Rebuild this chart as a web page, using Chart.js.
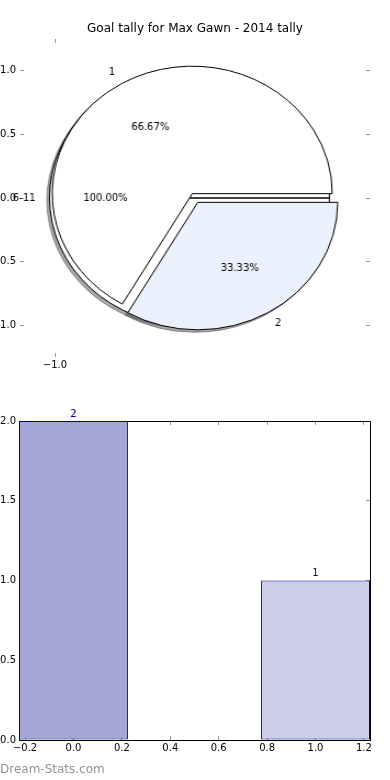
<!DOCTYPE html>
<html>
<head>
<meta charset="utf-8">
<script src="https://cdn.jsdelivr.net/npm/chart.js@4.4.0/dist/chart.umd.min.js"></script>
<style>
  html, body { margin: 0; padding: 0; background: #fff; width: 390px; height: 780px; overflow: hidden; }
  #wrap { position: relative; width: 390px; height: 780px; }
  canvas { position: absolute; }
  #axes { left: 0; top: 0; }
  #pieBack, #pieFront { left: 17px; top: 50px; transform: scaleX(1.098); }
  #bar { left: 0; top: 395px; }
  #mark { position: absolute; left: 0; top: 762px; font: 12px 'DejaVu Sans'; color: #939393; }
</style>
</head>
<body>
<div id="wrap">
  <canvas id="axes" width="390" height="390"></canvas>
  <canvas id="pieBack" width="356" height="296"></canvas>
  <canvas id="pieFront" width="356" height="296"></canvas>
  <canvas id="bar" width="390" height="370"></canvas>
  <div id="mark">Dream-Stats.com</div>
</div>
<script>
// data
const chartTitle = 'Goal tally for Max Gawn - 2014 tally';
const pieLabels = ['1', '2'];
const pieValues = [2, 1];
const backLabels = ['6-11'];
const backValues = [1];
const pieYTicks = [-1.0, -0.5, 0.0, 0.5, 1.0];
const pieXTicks = [-1.0];
const barX = [0, 1];
const barValues = [2, 1];
const barYTicks = [0, 0.5, 1.0, 1.5, 2.0];
const barXTicks = [-0.2, 0, 0.2, 0.4, 0.6, 0.8, 1.0, 1.2];

Chart.defaults.font.family = "'DejaVu Sans'";
Chart.defaults.font.size = 10;
Chart.defaults.color = '#000';

const SX = 1.098;     // pie axes are wider than tall
const EXPLODE = 5;
const fmt = v => Number(v).toFixed(1).replace('-', '\u2212');

const tickGrid = { display: true, drawOnChartArea: false, drawTicks: true, tickLength: -4, color: '#999' };
const setTicks = list => scale => { scale.ticks = list.map(v => ({ value: v })); };

// axes behind the pie
new Chart(document.getElementById('axes'), {
    type: 'scatter',
    data: { datasets: [] },
    options: {
        responsive: false,
        animation: false,
        events: [],
        plugins: {
            legend: { display: false },
            tooltip: { enabled: false },
            title: { display: true, text: chartTitle, color: '#000', font: { size: 12, weight: 'normal' }, padding: { top: 22, bottom: 0 } }
        },
        scales: {
            x: { type: 'linear', position: 'bottom', min: -1.25, max: 1.25, border: { display: false }, grid: tickGrid,
                 ticks: { padding: 6, maxRotation: 0, callback: fmt }, afterBuildTicks: setTicks(pieXTicks), afterFit: s => { s.height = 33; } },
            x2: { type: 'linear', position: 'top', min: -1.25, max: 1.25, border: { display: false }, grid: tickGrid,
                  ticks: { display: false }, afterBuildTicks: setTicks(pieXTicks), afterFit: s => { s.height = 2.6; } },
            y: { type: 'linear', position: 'left', min: -1.25, max: 1.25, border: { display: false }, grid: tickGrid,
                 ticks: { padding: 8, callback: fmt }, afterBuildTicks: setTicks(pieYTicks), afterFit: s => { s.width = 20; } },
            y2: { type: 'linear', position: 'right', min: -1.25, max: 1.25, border: { display: false }, grid: tickGrid,
                  ticks: { display: false }, afterBuildTicks: setTicks(pieYTicks), afterFit: s => { s.width = 20; } }
        }
    }
});

function arcProps(arc) {
    return arc.getProps(['x', 'y', 'startAngle', 'endAngle', 'outerRadius']);
}
function shiftOf(p) {
    const mid = (p.startAngle + p.endAngle) / 2;
    return [Math.cos(mid) * EXPLODE, Math.sin(mid) * EXPLODE, mid];
}
function drawShadow(ctx, arc) {
    const p = arcProps(arc);
    const [dx, dy] = shiftOf(p);
    const x = p.x + dx - 2.5, y = p.y + dy + 2.5;
    ctx.beginPath();
    if (p.endAngle - p.startAngle < Math.PI * 2 - 1e-6) ctx.moveTo(x, y);
    ctx.arc(x, y, p.outerRadius, p.startAngle, p.endAngle);
    ctx.closePath();
    ctx.fill();
    ctx.stroke();
}
function putText(ctx, text, x, y, align) {
    ctx.save();
    ctx.translate(x, y);
    ctx.scale(1 / SX, 1);
    ctx.textAlign = align;
    ctx.textBaseline = 'middle';
    ctx.fillText(text, 0, 0);
    ctx.restore();
}
function drawArcLabels(ctx, arcs, labels, values) {
    const total = values.reduce((a, b) => a + b, 0);
    arcs.forEach((arc, i) => {
        const p = arcProps(arc);
        const [dx, dy, mid] = shiftOf(p);
        const cx = p.x + dx, cy = p.y + dy;
        const c = Math.cos(mid), s = Math.sin(mid);
        putText(ctx, labels[i], cx + c * p.outerRadius * 1.1, cy + s * p.outerRadius * 1.1, c > 0 ? 'left' : 'right');
        putText(ctx, (values[i] / total * 100).toFixed(2) + '%', cx + c * p.outerRadius * 0.6, cy + s * p.outerRadius * 0.6, 'center');
    });
}

let frontChart = null;
let backChart = null;

// draw each wedge pushed out along its middle angle, shadows go under everything
const explodePlugin = {
    id: 'explode',
    beforeDatasetDraw(chart, args) {
        const ctx = chart.ctx;
        if (chart === backChart || chart.canvas.id === 'pieBack') {
            ctx.save();
            ctx.fillStyle = 'rgba(77,77,77,0.5)';
            ctx.strokeStyle = 'rgba(77,77,77,0.5)';
            ctx.lineWidth = 1;
            args.meta.data.forEach(a => drawShadow(ctx, a));
            if (frontChart) frontChart.getDatasetMeta(0).data.forEach(a => drawShadow(ctx, a));
            ctx.restore();
        }
        args.meta.data.forEach(arc => {
            const [dx, dy] = shiftOf(arcProps(arc));
            ctx.save();
            ctx.translate(dx, dy);
            arc.draw(ctx);
            ctx.restore();
        });
        return false;
    }
};

const labelPlugin = {
    id: 'pieLabels',
    afterDatasetsDraw(chart) {
        const ctx = chart.ctx;
        ctx.save();
        ctx.fillStyle = '#000';
        ctx.font = "10px 'DejaVu Sans'";
        drawArcLabels(ctx, chart.getDatasetMeta(0).data, pieLabels, pieValues);
        if (backChart) drawArcLabels(ctx, backChart.getDatasetMeta(0).data, backLabels, backValues);
        ctx.restore();
    }
};

const pieOptions = rot => ({
    responsive: false,
    animation: false,
    events: [],
    rotation: rot,
    layout: { padding: { left: 50, right: 50, top: 20, bottom: 20 } },
    plugins: { legend: { display: false }, tooltip: { enabled: false } }
});

frontChart = new Chart(document.getElementById('pieFront'), {
    type: 'pie',
    data: {
        labels: pieLabels,
        datasets: [{
            data: pieValues,
            backgroundColor: ['#ffffff', '#eaf0fc'],
            borderColor: '#000',
            borderWidth: 1,
            borderJoinStyle: 'miter',
            hoverOffset: 0,
            offset: 0
        }]
    },
    options: pieOptions(210),
    plugins: [explodePlugin, labelPlugin]
});

backChart = new Chart(document.getElementById('pieBack'), {
    type: 'pie',
    data: {
        labels: backLabels,
        datasets: [{
            data: backValues,
            backgroundColor: ['#ffffff'],
            borderColor: '#000',
            borderWidth: 1,
            borderJoinStyle: 'miter',
            hoverOffset: 0,
            offset: 0
        }]
    },
    options: pieOptions(90),
    plugins: [explodePlugin]
});
frontChart.draw();

// bar chart
const barColors = ['#a4a6d3', '#cccde6'];
const barLabelPlugin = {
    id: 'barLabels',
    afterDatasetsDraw(chart) {
        const ctx = chart.ctx;
        ctx.save();
        ctx.fillStyle = '#000080';
        ctx.font = "10px 'DejaVu Sans'";
        ctx.textAlign = 'center';
        ctx.textBaseline = 'bottom';
        chart.getDatasetMeta(0).data.forEach((bar, i) => {
            ctx.fillText(String(barValues[i]), bar.x, bar.y - 2);
        });
        ctx.restore();
    }
};
const frame = { display: true, color: '#000', width: 1 };

new Chart(document.getElementById('bar'), {
    type: 'bar',
    data: {
        datasets: [{
            data: barX.map((x, i) => ({ x: x, y: barValues[i] })),
            backgroundColor: barColors,
            borderColor: '#000080',
            borderWidth: 1,
            borderSkipped: false,
            // chart.js sizes bars from the 0.2 tick step, bars are 0.45 wide
            barPercentage: 0.45 / 0.2,
            categoryPercentage: 1
        }]
    },
    options: {
        responsive: false,
        animation: false,
        events: [],
        plugins: { legend: { display: false }, tooltip: { enabled: false } },
        scales: {
            x: { type: 'linear', position: 'bottom', min: -0.225, max: 1.225, offset: false, border: frame,
                 grid: Object.assign({}, tickGrid, { offset: false }),
                 ticks: { padding: 6, maxRotation: 0, autoSkip: false, callback: fmt }, afterBuildTicks: setTicks(barXTicks), afterFit: s => { s.height = 25; } },
            x2: { type: 'linear', position: 'top', min: -0.225, max: 1.225, offset: false, border: frame,
                  grid: Object.assign({}, tickGrid, { offset: false }),
                  ticks: { display: false }, afterBuildTicks: setTicks(barXTicks), afterFit: s => { s.height = 26; } },
            y: { type: 'linear', position: 'left', min: 0, max: 2, border: frame, grid: tickGrid,
                 ticks: { padding: 7, callback: fmt }, afterBuildTicks: setTicks(barYTicks), afterFit: s => { s.width = 19; } },
            y2: { type: 'linear', position: 'right', min: 0, max: 2, border: frame, grid: tickGrid,
                  ticks: { display: false }, afterBuildTicks: setTicks(barYTicks), afterFit: s => { s.width = 20; } }
        }
    },
    plugins: [barLabelPlugin]
});
</script>
</body>
</html>
